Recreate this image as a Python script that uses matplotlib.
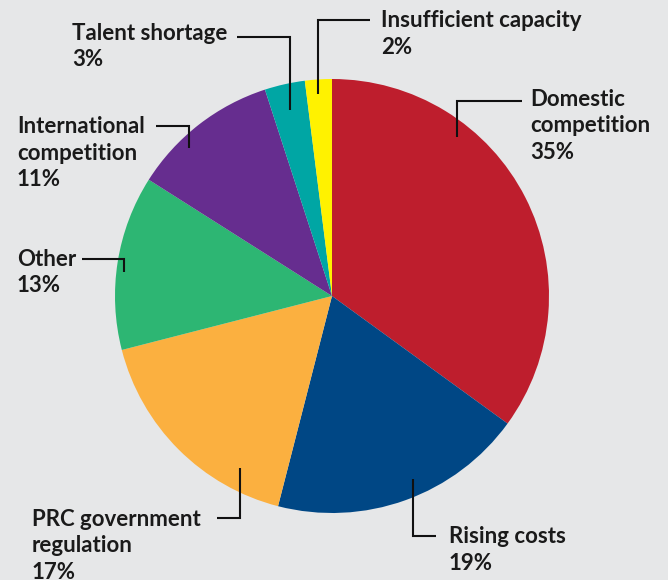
import matplotlib
matplotlib.use("Agg")
import matplotlib.pyplot as plt

# Survey shares
categories = ["Domestic\ncompetition", "Rising costs", "PRC government\nregulation",
              "Other", "International\ncompetition", "Talent shortage",
              "Insufficient capacity"]
values = [35, 19, 17, 13, 11, 3, 2]
colors = ["#BE1E2D", "#004785", "#FBB040", "#2DB673", "#662D8F", "#00A6A4", "#FFF200"]

W, H = 668, 580
BG = "#E6E7E8"

fig = plt.figure(figsize=(W / 100, H / 100), dpi=100, facecolor=BG)
ax = fig.add_axes([0, 0, 1, 1])
ax.set_facecolor(BG)

cx, cy, r = 332, H - 296, 217
ax.pie(values, colors=colors, startangle=90, counterclock=False,
       center=(cx, cy), radius=r, wedgeprops=dict(linewidth=0),
       frame=True)
ax.set_xlim(0, W)
ax.set_ylim(0, H)
ax.set_aspect("equal")
ax.axis("off")

# label layout: text anchor (x, first baseline) and leader path, in pixel coords from top
layout = {
    "Domestic\ncompetition": ((530, 106), [(457, 137), (457, 101), (522, 101)]),
    "Rising costs": ((449, 543), [(413, 479), (413, 536), (436, 536)]),
    "PRC government\nregulation": ((32, 526), [(240, 468), (240, 518), (217, 518)]),
    "Other": ((17, 266), [(124, 272), (124, 259), (82, 259)]),
    "International\ncompetition": ((17, 133), [(189, 148), (189, 126), (156, 126)]),
    "Talent shortage": ((72, 40), [(290, 110), (290, 37), (237, 37)]),
    "Insufficient capacity": ((381, 27), [(318, 94), (318, 20), (370, 20)]),
}
LINE_STEP = 26.5

for cat, val in zip(categories, values):
    (tx, ty), path = layout[cat]
    xs = [p[0] for p in path]
    ys = [H - p[1] for p in path]
    ax.plot(xs, ys, color="#111111", lw=1.5, solid_capstyle="butt",
            solid_joinstyle="miter")
    lines = cat.split("\n") + [f"{val}%"]
    for i, line in enumerate(lines):
        ax.text(tx, H - (ty + i * LINE_STEP), line, ha="left", va="baseline",
                fontsize=16, fontfamily="Lato", fontweight="bold",
                color="#1A1A1A")

fig.savefig("out.png", dpi=100, facecolor=BG)
